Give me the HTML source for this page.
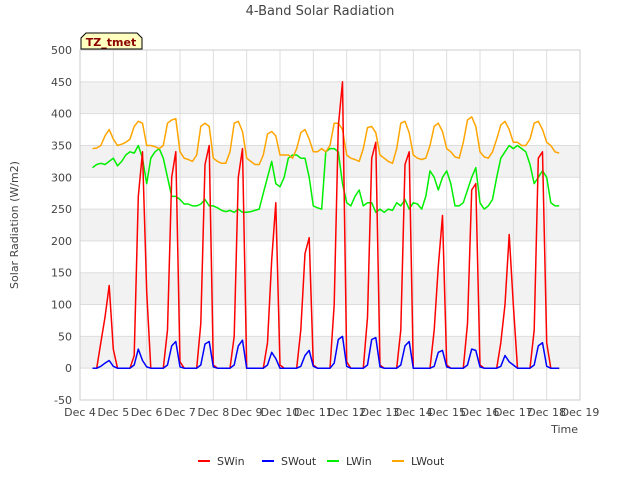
<!DOCTYPE html>
<html><head><meta charset="utf-8"><style>
body{margin:0;background:#fff;font-family:"Liberation Sans",sans-serif}
svg text{font-family:"DejaVu Sans","Liberation Sans",sans-serif}
</style></head><body>
<svg id="chart" width="640" height="480" xmlns="http://www.w3.org/2000/svg">
<text x="320" y="15" text-anchor="middle" font-size="13" fill="#444">4-Band Solar Radiation</text>
<g id="bands"></g><g id="grid"></g><g id="axes"></g><g id="series"></g>
<text x="18" y="225" transform="rotate(-90 18 225)" text-anchor="middle" font-size="11" fill="#444">Solar Radiation (W/m2)</text>
<text x="578" y="433" text-anchor="end" font-size="11" fill="#444">Time</text>
<g>
<path d="M81,49 L81,38 L86,33 L137,33 L142,38 L142,49 Z" fill="#ffffc0" stroke="#000" stroke-width="1"/>
<text x="111" y="46" text-anchor="middle" font-size="11" font-weight="bold" fill="#8b0000">TZ_tmet</text></g>
<g id="legend"></g>
</svg>
<script>
const xTicks=[4,5,6,7,8,9,10,11,12,13,14,15,16,17,18,19];
const yTicks=[-50,0,50,100,150,200,250,300,350,400,450,500];
const seriesNames=["SWin","SWout","LWin","LWout"];
const seriesColors=["#ff0000","#0000ff","#00ee00","#ffa500"];
const tStart=4.375, tStep=0.125;
const SWin=[0,0,40,80,130,
30,0,0,0,0,20,270,340,
120,0,0,0,0,60,300,340,
10,0,0,0,0,70,320,350,
5,0,0,0,0,50,300,345,
0,0,0,0,0,40,170,260,
5,0,0,0,0,60,180,205,
5,0,0,0,0,100,380,450,
10,0,0,0,0,80,330,355,
5,0,0,0,0,60,320,340,
0,0,0,0,0,60,160,240,
5,0,0,0,0,70,280,290,
5,0,0,0,0,40,100,210,
100,0,0,0,0,60,330,340,
40,0,0,0];
const SWout=[0,0,3,8,12,
3,0,0,0,0,5,30,12,
2,0,0,0,0,5,35,42,
2,0,0,0,0,5,38,42,
2,0,0,0,0,5,35,44,
0,0,0,0,0,5,25,15,
0,0,0,0,0,3,20,28,
3,0,0,0,0,8,45,50,
3,0,0,0,0,5,45,48,
2,0,0,0,0,5,35,42,
0,0,0,0,0,3,25,28,
2,0,0,0,0,5,30,28,
2,0,0,0,0,3,20,10,
5,0,0,0,0,5,35,40,
3,0,0,0];
const LWin=[315,320,322,320,325,
330,318,325,335,340,338,350,330,
290,330,340,345,330,300,270,270,
265,258,258,255,255,258,265,255,
255,252,248,246,248,245,250,245,
245,246,248,250,275,300,325,290,
285,300,330,335,335,330,330,300,
255,252,250,340,345,345,340,290,
260,255,270,280,255,260,260,245,
250,245,250,248,260,255,265,250,
260,258,250,270,310,300,280,300,
310,290,255,255,260,280,300,315,
260,250,255,265,300,330,340,350,
345,350,345,340,320,290,300,310,
300,260,255,255];
const LWout=[345,346,350,365,375,
360,350,352,355,360,380,388,385,
350,350,348,345,350,385,390,392,
340,330,328,325,335,380,385,380,
330,325,322,322,340,385,388,372,
330,325,320,320,335,368,372,365,
335,335,335,330,345,370,375,360,
340,340,345,340,350,385,385,375,
335,330,328,325,345,378,380,370,
335,330,325,322,345,385,388,370,
335,330,328,330,350,380,385,372,
345,340,332,330,355,390,395,380,
340,332,330,340,360,382,388,375,
355,355,350,350,360,385,388,375,
355,350,340,338];
const allSeries=[SWin,SWout,LWin,LWout];
const L=80,R=580,T=50,B=400,X0=4,X1=19,Y0=-50,Y1=500;
const xs=d=>L+(d-X0)/(X1-X0)*(R-L);
const ys=v=>B-(v-Y0)/(Y1-Y0)*(B-T);
const NS="http://www.w3.org/2000/svg";
function mk(tag,attrs,parent){const e=document.createElementNS(NS,tag);for(const k in attrs)e.setAttribute(k,attrs[k]);parent.appendChild(e);return e;}
const bands=document.getElementById('bands'),grid=document.getElementById('grid'),axes=document.getElementById('axes'),ser=document.getElementById('series'),leg=document.getElementById('legend');
mk('rect',{x:L,y:T,width:R-L,height:B-T,fill:'#fff'},bands);
for(let i=0;i<yTicks.length-1;i++){if(i%2===1){const b=mk('rect',{x:L,y:ys(yTicks[i+1]),width:R-L,height:ys(yTicks[i])-ys(yTicks[i+1]),fill:'#f2f2f2'},bands);

}}
yTicks.forEach(v=>{const g=mk('line',{x1:L,x2:R,y1:ys(v),y2:ys(v),stroke:'#ddd','stroke-width':1},grid);


const t=mk('text',{x:L-8,y:ys(v)+4,'text-anchor':'end','font-size':11,fill:'#444'},axes);t.textContent=v;

});
xTicks.forEach(d=>{const g=mk('line',{x1:xs(d),x2:xs(d),y1:T,y2:B,stroke:'#ddd','stroke-width':1},grid);


const t=mk('text',{x:xs(d),y:B+16,'text-anchor':'middle','font-size':11,fill:'#444'},axes);t.textContent='Dec '+d;

});
mk('rect',{x:L,y:T,width:R-L,height:B-T,fill:'none',stroke:'#ccc'},axes);
[2,3,0,1].forEach(si=>{const arr=allSeries[si];const pts=arr.map((v,i)=>xs(tStart+i*tStep).toFixed(1)+','+ys(v).toFixed(1)).join(' ');
const p=mk('polyline',{points:pts,fill:'none',stroke:seriesColors[si],'stroke-width':1.5,'stroke-linejoin':'round'},ser);

});
const lx=[198,262,327,392];
seriesNames.forEach((n,i)=>{const g=mk('g',{},leg);


mk('line',{x1:lx[i],x2:lx[i]+12,y1:461,y2:461,stroke:seriesColors[i],'stroke-width':2},g);
const t=mk('text',{x:lx[i]+19,y:465,'font-size':11,fill:'#333'},g);t.textContent=n;});
</script>
</body></html>
